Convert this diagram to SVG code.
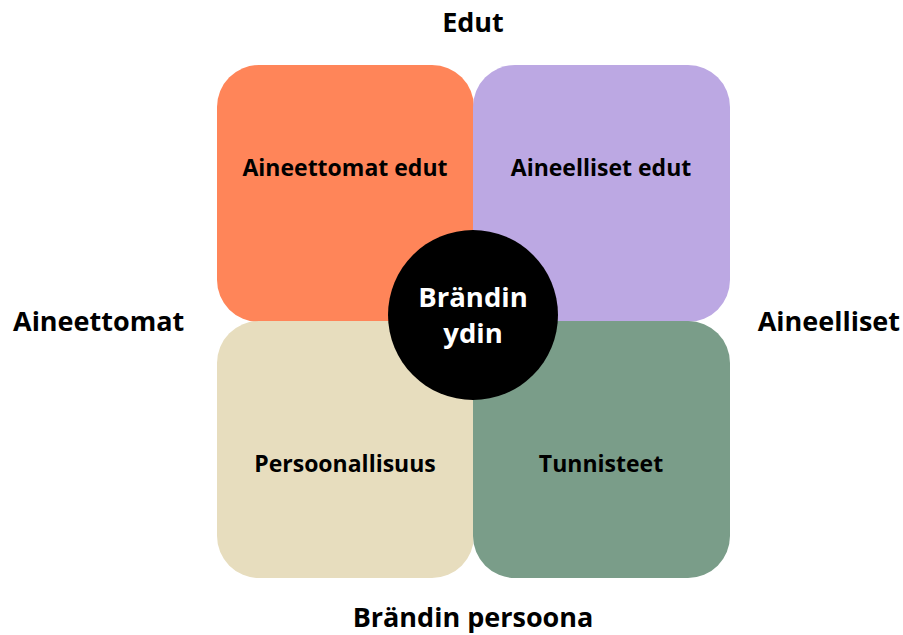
<svg xmlns="http://www.w3.org/2000/svg" width="903" height="635" viewBox="0 0 903 635">
  <style>
    .axis { font-family: "Open Sans", "Noto Sans", sans-serif; font-weight: 700; font-size: 27px; fill: #000; }
    .label { font-family: "Open Sans", "Noto Sans", sans-serif; font-weight: 700; font-size: 23px; fill: #000; text-anchor: middle; }
    .core { font-family: "Open Sans", "Noto Sans", sans-serif; font-weight: 700; font-size: 27.5px; fill: #fff; text-anchor: middle; }
  </style>
  <rect width="903" height="635" fill="#fff"/>

  <!-- axis captions -->
  <text class="axis" x="473" y="32" text-anchor="middle">Edut</text>
  <text class="axis" x="13" y="331">Aineettomat</text>
  <text class="axis" x="900" y="331" text-anchor="end">Aineelliset</text>
  <text class="axis" x="473" y="627" text-anchor="middle">Brändin persoona</text>

  <!-- quadrants -->
  <g id="aineettomat-edut">
    <rect x="217" y="65" width="257" height="257" rx="42" fill="#ff8559"/>
    <text class="label" x="345" y="176">Aineettomat edut</text>
  </g>
  <g id="aineelliset-edut">
    <rect x="473" y="65" width="257" height="257" rx="42" fill="#bca8e3"/>
    <text class="label" x="601" y="176">Aineelliset edut</text>
  </g>
  <g id="persoonallisuus">
    <rect x="217" y="321" width="257" height="257" rx="42" fill="#e7ddbe"/>
    <text class="label" x="345" y="472">Persoonallisuus</text>
  </g>
  <g id="tunnisteet">
    <rect x="473" y="321" width="257" height="257" rx="42" fill="#7a9d89"/>
    <text class="label" x="601" y="472">Tunnisteet</text>
  </g>

  <!-- centre -->
  <g id="brandin-ydin">
    <circle cx="473" cy="315" r="85" fill="#000"/>
    <text class="core" x="473" y="307">Brändin</text>
    <text class="core" x="473" y="343">ydin</text>
  </g>

  <g id="connectors"/>
</svg>
